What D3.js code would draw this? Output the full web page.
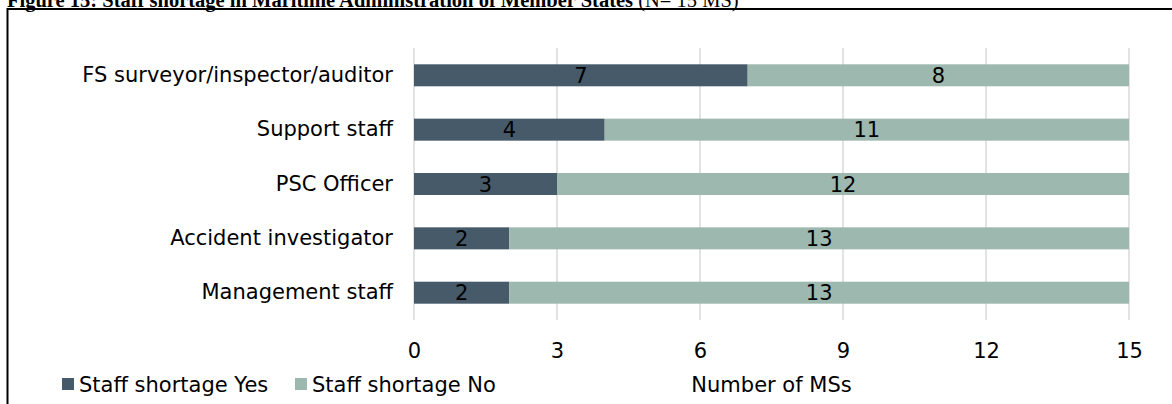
<!DOCTYPE html>
<html>
<head>
<meta charset="utf-8">
<script src="https://cdn.jsdelivr.net/npm/d3@7"></script>
<style>
  body { margin: 0; background: #fff; }
  svg { display: block; }
</style>
</head>
<body>
<svg id="chart"></svg>
<script>
const categories = ['FS surveyor/inspector/auditor', 'Support staff', 'PSC Officer', 'Accident investigator', 'Management staff']
const shortageYes = [7, 4, 3, 2, 2]
const shortageNo = [8, 11, 12, 13, 13]
const xTicks = [0, 3, 6, 9, 12, 15]
const seriesNames = ['Staff shortage Yes', 'Staff shortage No']
const colors = ['#465a69', '#9db8ae']

const width = 1172
const height = 404
const font = 'Verdana, "DejaVu Sans", sans-serif'
const fontSize = '21px'

const svg = d3.select('#chart')
  .attr('width', width)
  .attr('height', height)

// title, clipped at top like the source page
const title = svg.append('text')
  .attr('x', 7)
  .attr('y', 6.5)
  .style('font-family', '"Liberation Serif", "Times New Roman", serif')
  .style('font-size', '20.5px')
title.append('tspan').style('font-weight', 'bold').style('fill', '#000')
  .text('Figure 15: Staff shortage in Maritime Administration of Member States ')
title.append('tspan').style('fill', '#000').text('(N= 15 MS)')

// frame
svg.append('path')
  .attr('d', 'M7.5,' + (height + 5) + ' V9 H' + (width + 5))
  .attr('fill', 'none')
  .attr('stroke', '#000')
  .attr('stroke-width', 2)

const x = d3.scaleLinear().domain([0, 15]).range([414, 1129])
const y = d3.scaleBand().domain(categories).range([48, 320]).paddingInner(0.595).paddingOuter(0.3)

// gridlines
svg.append('g')
  .selectAll('line')
  .data(xTicks)
  .enter().append('line')
  .attr('x1', d => x(d))
  .attr('x2', d => x(d))
  .attr('y1', 48)
  .attr('y2', 320)
  .attr('stroke', '#d9d9d9')
  .attr('stroke-width', 1.5)

const rows = categories.map((c, i) => ({ cat: c, yes: shortageYes[i], no: shortageNo[i] }))

const bars = svg.append('g')
bars.selectAll('.yes')
  .data(rows)
  .enter().append('rect')
  .attr('class', 'yes')
  .attr('x', x(0))
  .attr('y', d => y(d.cat))
  .attr('width', d => x(d.yes) - x(0))
  .attr('height', y.bandwidth())
  .attr('fill', colors[0])

bars.selectAll('.no')
  .data(rows)
  .enter().append('rect')
  .attr('class', 'no')
  .attr('x', d => x(d.yes))
  .attr('y', d => y(d.cat))
  .attr('width', d => x(d.yes + d.no) - x(d.yes))
  .attr('height', y.bandwidth())
  .attr('fill', colors[1])

// value labels
const labels = svg.append('g')
  .style('font-family', font)
  .style('font-size', fontSize)
  .attr('text-anchor', 'middle')
  .attr('fill', '#000')

labels.selectAll('.ly')
  .data(rows)
  .enter().append('text')
  .attr('x', d => (x(0) + x(d.yes)) / 2)
  .attr('y', d => y(d.cat) + y.bandwidth() / 2)
  .attr('dy', '0.36em')
  .text(d => d.yes)

labels.selectAll('.ln')
  .data(rows)
  .enter().append('text')
  .attr('x', d => (x(d.yes) + x(d.yes + d.no)) / 2)
  .attr('y', d => y(d.cat) + y.bandwidth() / 2)
  .attr('dy', '0.36em')
  .text(d => d.no)

// category axis
const yAxis = svg.append('g')
  .attr('transform', 'translate(' + (x(0) - 21) + ',0)')
  .call(d3.axisLeft(y).tickSize(0).tickPadding(0))
yAxis.select('.domain').remove()
yAxis.selectAll('text')
  .style('font-family', font)
  .style('font-size', fontSize)
  .attr('fill', '#000')

// value axis
const xAxis = svg.append('g')
  .attr('transform', 'translate(0,343)')
  .call(d3.axisBottom(x).tickValues(xTicks).tickSize(0).tickPadding(0))
xAxis.select('.domain').remove()
xAxis.selectAll('text')
  .style('font-family', font)
  .style('font-size', fontSize)
  .attr('fill', '#000')

// legend
const legend = svg.append('g')
  .style('font-family', font)
  .style('font-size', fontSize)
const legendX = [62, 295]
seriesNames.forEach((name, i) => {
  legend.append('rect')
    .attr('x', legendX[i])
    .attr('y', 378)
    .attr('width', 12)
    .attr('height', 12)
    .attr('fill', colors[i])
  legend.append('text')
    .attr('x', legendX[i] + 17)
    .attr('y', 384)
    .attr('dy', '0.36em')
    .attr('fill', '#000')
    .text(name)
})

svg.append('text')
  .attr('x', (x(0) + x(15)) / 2)
  .attr('y', 384)
  .attr('dy', '0.36em')
  .attr('text-anchor', 'middle')
  .style('font-family', font)
  .style('font-size', fontSize)
  .attr('fill', '#000')
  .text('Number of MSs')
</script>
</body>
</html>
